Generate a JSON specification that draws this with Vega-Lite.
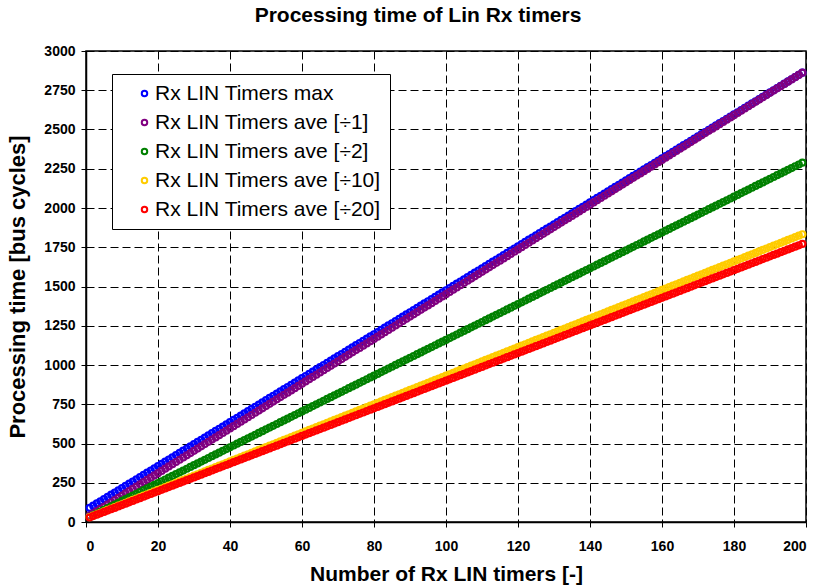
{
  "$schema": "https://vega.github.io/schema/vega-lite/v6.json",
  "width": 720,
  "height": 471,
  "autosize": {"type": "none"},
  "padding": {"left": 86, "top": 51, "right": 13, "bottom": 63},
  "background": "white",
  "title": {
    "text": "Processing time of Lin Rx timers",
    "font": "Liberation Sans",
    "fontSize": 21,
    "fontWeight": "bold",
    "color": "black",
    "anchor": "middle",
    "dx": -28,
    "offset": 18
  },
  "config": {
    "view": {"stroke": "black", "strokeWidth": 1.5},
    "axis": {
      "labelFont": "Liberation Sans",
      "labelFontSize": 14,
      "labelFontWeight": "bold",
      "labelColor": "black",
      "labelOverlap": false,
      "labelLimit": 200,
      "titleFont": "Liberation Sans",
      "titleFontSize": 21,
      "titleFontWeight": "bold",
      "titleColor": "black",
      "domainColor": "black",
      "domainWidth": 1.5,
      "tickColor": "black",
      "tickSize": 5,
      "tickWidth": 1,
      "grid": true,
      "gridColor": "black",
      "gridDash": [8, 4],
      "gridWidth": 1,
      "gridOpacity": 1
    }
  },
  "data": {
    "values": [
      {"n":1,"a":90,"b":40.25,"c":31.4,"d":31.1,"e":28.8},
      {"n":2,"a":104,"b":54.5,"c":42.8,"d":40.2,"e":37.6},
      {"n":3,"a":118,"b":68.75,"c":54.2,"d":49.3,"e":46.4},
      {"n":4,"a":132,"b":83,"c":65.6,"d":58.4,"e":55.2},
      {"n":5,"a":146,"b":97.25,"c":77,"d":67.5,"e":64},
      {"n":6,"a":160,"b":111.5,"c":88.4,"d":76.6,"e":72.8},
      {"n":7,"a":174,"b":125.75,"c":99.8,"d":85.7,"e":81.6},
      {"n":8,"a":188,"b":140,"c":111.2,"d":94.8,"e":90.4},
      {"n":9,"a":202,"b":154.25,"c":122.6,"d":103.9,"e":99.2},
      {"n":10,"a":216,"b":168.5,"c":134,"d":113,"e":108},
      {"n":11,"a":230,"b":182.75,"c":145.4,"d":122.1,"e":116.8},
      {"n":12,"a":244,"b":197,"c":156.8,"d":131.2,"e":125.6},
      {"n":13,"a":258,"b":211.25,"c":168.2,"d":140.3,"e":134.4},
      {"n":14,"a":272,"b":225.5,"c":179.6,"d":149.4,"e":143.2},
      {"n":15,"a":286,"b":239.75,"c":191,"d":158.5,"e":152},
      {"n":16,"a":300,"b":254,"c":202.4,"d":167.6,"e":160.8},
      {"n":17,"a":314,"b":268.25,"c":213.8,"d":176.7,"e":169.6},
      {"n":18,"a":328,"b":282.5,"c":225.2,"d":185.8,"e":178.4},
      {"n":19,"a":342,"b":296.75,"c":236.6,"d":194.9,"e":187.2},
      {"n":20,"a":356,"b":311,"c":248,"d":204,"e":196},
      {"n":21,"a":370,"b":325.25,"c":259.4,"d":213.1,"e":204.8},
      {"n":22,"a":384,"b":339.5,"c":270.8,"d":222.2,"e":213.6},
      {"n":23,"a":398,"b":353.75,"c":282.2,"d":231.3,"e":222.4},
      {"n":24,"a":412,"b":368,"c":293.6,"d":240.4,"e":231.2},
      {"n":25,"a":426,"b":382.25,"c":305,"d":249.5,"e":240},
      {"n":26,"a":440,"b":396.5,"c":316.4,"d":258.6,"e":248.8},
      {"n":27,"a":454,"b":410.75,"c":327.8,"d":267.7,"e":257.6},
      {"n":28,"a":468,"b":425,"c":339.2,"d":276.8,"e":266.4},
      {"n":29,"a":482,"b":439.25,"c":350.6,"d":285.9,"e":275.2},
      {"n":30,"a":496,"b":453.5,"c":362,"d":295,"e":284},
      {"n":31,"a":510,"b":467.75,"c":373.4,"d":304.1,"e":292.8},
      {"n":32,"a":524,"b":482,"c":384.8,"d":313.2,"e":301.6},
      {"n":33,"a":538,"b":496.25,"c":396.2,"d":322.3,"e":310.4},
      {"n":34,"a":552,"b":510.5,"c":407.6,"d":331.4,"e":319.2},
      {"n":35,"a":566,"b":524.75,"c":419,"d":340.5,"e":328},
      {"n":36,"a":580,"b":539,"c":430.4,"d":349.6,"e":336.8},
      {"n":37,"a":594,"b":553.25,"c":441.8,"d":358.7,"e":345.6},
      {"n":38,"a":608,"b":567.5,"c":453.2,"d":367.8,"e":354.4},
      {"n":39,"a":622,"b":581.75,"c":464.6,"d":376.9,"e":363.2},
      {"n":40,"a":636,"b":596,"c":476,"d":386,"e":372},
      {"n":41,"a":650,"b":610.25,"c":487.4,"d":395.1,"e":380.8},
      {"n":42,"a":664,"b":624.5,"c":498.8,"d":404.2,"e":389.6},
      {"n":43,"a":678,"b":638.75,"c":510.2,"d":413.3,"e":398.4},
      {"n":44,"a":692,"b":653,"c":521.6,"d":422.4,"e":407.2},
      {"n":45,"a":706,"b":667.25,"c":533,"d":431.5,"e":416},
      {"n":46,"a":720,"b":681.5,"c":544.4,"d":440.6,"e":424.8},
      {"n":47,"a":734,"b":695.75,"c":555.8,"d":449.7,"e":433.6},
      {"n":48,"a":748,"b":710,"c":567.2,"d":458.8,"e":442.4},
      {"n":49,"a":762,"b":724.25,"c":578.6,"d":467.9,"e":451.2},
      {"n":50,"a":776,"b":738.5,"c":590,"d":477,"e":460},
      {"n":51,"a":790,"b":752.75,"c":601.4,"d":486.1,"e":468.8},
      {"n":52,"a":804,"b":767,"c":612.8,"d":495.2,"e":477.6},
      {"n":53,"a":818,"b":781.25,"c":624.2,"d":504.3,"e":486.4},
      {"n":54,"a":832,"b":795.5,"c":635.6,"d":513.4,"e":495.2},
      {"n":55,"a":846,"b":809.75,"c":647,"d":522.5,"e":504},
      {"n":56,"a":860,"b":824,"c":658.4,"d":531.6,"e":512.8},
      {"n":57,"a":874,"b":838.25,"c":669.8,"d":540.7,"e":521.6},
      {"n":58,"a":888,"b":852.5,"c":681.2,"d":549.8,"e":530.4},
      {"n":59,"a":902,"b":866.75,"c":692.6,"d":558.9,"e":539.2},
      {"n":60,"a":916,"b":881,"c":704,"d":568,"e":548},
      {"n":61,"a":930,"b":895.25,"c":715.4,"d":577.1,"e":556.8},
      {"n":62,"a":944,"b":909.5,"c":726.8,"d":586.2,"e":565.6},
      {"n":63,"a":958,"b":923.75,"c":738.2,"d":595.3,"e":574.4},
      {"n":64,"a":972,"b":938,"c":749.6,"d":604.4,"e":583.2},
      {"n":65,"a":986,"b":952.25,"c":761,"d":613.5,"e":592},
      {"n":66,"a":1000,"b":966.5,"c":772.4,"d":622.6,"e":600.8},
      {"n":67,"a":1014,"b":980.75,"c":783.8,"d":631.7,"e":609.6},
      {"n":68,"a":1028,"b":995,"c":795.2,"d":640.8,"e":618.4},
      {"n":69,"a":1042,"b":1009.25,"c":806.6,"d":649.9,"e":627.2},
      {"n":70,"a":1056,"b":1023.5,"c":818,"d":659,"e":636},
      {"n":71,"a":1070,"b":1037.75,"c":829.4,"d":668.1,"e":644.8},
      {"n":72,"a":1084,"b":1052,"c":840.8,"d":677.2,"e":653.6},
      {"n":73,"a":1098,"b":1066.25,"c":852.2,"d":686.3,"e":662.4},
      {"n":74,"a":1112,"b":1080.5,"c":863.6,"d":695.4,"e":671.2},
      {"n":75,"a":1126,"b":1094.75,"c":875,"d":704.5,"e":680},
      {"n":76,"a":1140,"b":1109,"c":886.4,"d":713.6,"e":688.8},
      {"n":77,"a":1154,"b":1123.25,"c":897.8,"d":722.7,"e":697.6},
      {"n":78,"a":1168,"b":1137.5,"c":909.2,"d":731.8,"e":706.4},
      {"n":79,"a":1182,"b":1151.75,"c":920.6,"d":740.9,"e":715.2},
      {"n":80,"a":1196,"b":1166,"c":932,"d":750,"e":724},
      {"n":81,"a":1210,"b":1180.25,"c":943.4,"d":759.1,"e":732.8},
      {"n":82,"a":1224,"b":1194.5,"c":954.8,"d":768.2,"e":741.6},
      {"n":83,"a":1238,"b":1208.75,"c":966.2,"d":777.3,"e":750.4},
      {"n":84,"a":1252,"b":1223,"c":977.6,"d":786.4,"e":759.2},
      {"n":85,"a":1266,"b":1237.25,"c":989,"d":795.5,"e":768},
      {"n":86,"a":1280,"b":1251.5,"c":1000.4,"d":804.6,"e":776.8},
      {"n":87,"a":1294,"b":1265.75,"c":1011.8,"d":813.7,"e":785.6},
      {"n":88,"a":1308,"b":1280,"c":1023.2,"d":822.8,"e":794.4},
      {"n":89,"a":1322,"b":1294.25,"c":1034.6,"d":831.9,"e":803.2},
      {"n":90,"a":1336,"b":1308.5,"c":1046,"d":841,"e":812},
      {"n":91,"a":1350,"b":1322.75,"c":1057.4,"d":850.1,"e":820.8},
      {"n":92,"a":1364,"b":1337,"c":1068.8,"d":859.2,"e":829.6},
      {"n":93,"a":1378,"b":1351.25,"c":1080.2,"d":868.3,"e":838.4},
      {"n":94,"a":1392,"b":1365.5,"c":1091.6,"d":877.4,"e":847.2},
      {"n":95,"a":1406,"b":1379.75,"c":1103,"d":886.5,"e":856},
      {"n":96,"a":1420,"b":1394,"c":1114.4,"d":895.6,"e":864.8},
      {"n":97,"a":1434,"b":1408.25,"c":1125.8,"d":904.7,"e":873.6},
      {"n":98,"a":1448,"b":1422.5,"c":1137.2,"d":913.8,"e":882.4},
      {"n":99,"a":1462,"b":1436.75,"c":1148.6,"d":922.9,"e":891.2},
      {"n":100,"a":1476,"b":1451,"c":1160,"d":932,"e":900},
      {"n":101,"a":1490,"b":1465.25,"c":1171.4,"d":941.1,"e":908.8},
      {"n":102,"a":1504,"b":1479.5,"c":1182.8,"d":950.2,"e":917.6},
      {"n":103,"a":1518,"b":1493.75,"c":1194.2,"d":959.3,"e":926.4},
      {"n":104,"a":1532,"b":1508,"c":1205.6,"d":968.4,"e":935.2},
      {"n":105,"a":1546,"b":1522.25,"c":1217,"d":977.5,"e":944},
      {"n":106,"a":1560,"b":1536.5,"c":1228.4,"d":986.6,"e":952.8},
      {"n":107,"a":1574,"b":1550.75,"c":1239.8,"d":995.7,"e":961.6},
      {"n":108,"a":1588,"b":1565,"c":1251.2,"d":1004.8,"e":970.4},
      {"n":109,"a":1602,"b":1579.25,"c":1262.6,"d":1013.9,"e":979.2},
      {"n":110,"a":1616,"b":1593.5,"c":1274,"d":1023,"e":988},
      {"n":111,"a":1630,"b":1607.75,"c":1285.4,"d":1032.1,"e":996.8},
      {"n":112,"a":1644,"b":1622,"c":1296.8,"d":1041.2,"e":1005.6},
      {"n":113,"a":1658,"b":1636.25,"c":1308.2,"d":1050.3,"e":1014.4},
      {"n":114,"a":1672,"b":1650.5,"c":1319.6,"d":1059.4,"e":1023.2},
      {"n":115,"a":1686,"b":1664.75,"c":1331,"d":1068.5,"e":1032},
      {"n":116,"a":1700,"b":1679,"c":1342.4,"d":1077.6,"e":1040.8},
      {"n":117,"a":1714,"b":1693.25,"c":1353.8,"d":1086.7,"e":1049.6},
      {"n":118,"a":1728,"b":1707.5,"c":1365.2,"d":1095.8,"e":1058.4},
      {"n":119,"a":1742,"b":1721.75,"c":1376.6,"d":1104.9,"e":1067.2},
      {"n":120,"a":1756,"b":1736,"c":1388,"d":1114,"e":1076},
      {"n":121,"a":1770,"b":1750.25,"c":1399.4,"d":1123.1,"e":1084.8},
      {"n":122,"a":1784,"b":1764.5,"c":1410.8,"d":1132.2,"e":1093.6},
      {"n":123,"a":1798,"b":1778.75,"c":1422.2,"d":1141.3,"e":1102.4},
      {"n":124,"a":1812,"b":1793,"c":1433.6,"d":1150.4,"e":1111.2},
      {"n":125,"a":1826,"b":1807.25,"c":1445,"d":1159.5,"e":1120},
      {"n":126,"a":1840,"b":1821.5,"c":1456.4,"d":1168.6,"e":1128.8},
      {"n":127,"a":1854,"b":1835.75,"c":1467.8,"d":1177.7,"e":1137.6},
      {"n":128,"a":1868,"b":1850,"c":1479.2,"d":1186.8,"e":1146.4},
      {"n":129,"a":1882,"b":1864.25,"c":1490.6,"d":1195.9,"e":1155.2},
      {"n":130,"a":1896,"b":1878.5,"c":1502,"d":1205,"e":1164},
      {"n":131,"a":1910,"b":1892.75,"c":1513.4,"d":1214.1,"e":1172.8},
      {"n":132,"a":1924,"b":1907,"c":1524.8,"d":1223.2,"e":1181.6},
      {"n":133,"a":1938,"b":1921.25,"c":1536.2,"d":1232.3,"e":1190.4},
      {"n":134,"a":1952,"b":1935.5,"c":1547.6,"d":1241.4,"e":1199.2},
      {"n":135,"a":1966,"b":1949.75,"c":1559,"d":1250.5,"e":1208},
      {"n":136,"a":1980,"b":1964,"c":1570.4,"d":1259.6,"e":1216.8},
      {"n":137,"a":1994,"b":1978.25,"c":1581.8,"d":1268.7,"e":1225.6},
      {"n":138,"a":2008,"b":1992.5,"c":1593.2,"d":1277.8,"e":1234.4},
      {"n":139,"a":2022,"b":2006.75,"c":1604.6,"d":1286.9,"e":1243.2},
      {"n":140,"a":2036,"b":2021,"c":1616,"d":1296,"e":1252},
      {"n":141,"a":2050,"b":2035.25,"c":1627.4,"d":1305.1,"e":1260.8},
      {"n":142,"a":2064,"b":2049.5,"c":1638.8,"d":1314.2,"e":1269.6},
      {"n":143,"a":2078,"b":2063.75,"c":1650.2,"d":1323.3,"e":1278.4},
      {"n":144,"a":2092,"b":2078,"c":1661.6,"d":1332.4,"e":1287.2},
      {"n":145,"a":2106,"b":2092.25,"c":1673,"d":1341.5,"e":1296},
      {"n":146,"a":2120,"b":2106.5,"c":1684.4,"d":1350.6,"e":1304.8},
      {"n":147,"a":2134,"b":2120.75,"c":1695.8,"d":1359.7,"e":1313.6},
      {"n":148,"a":2148,"b":2135,"c":1707.2,"d":1368.8,"e":1322.4},
      {"n":149,"a":2162,"b":2149.25,"c":1718.6,"d":1377.9,"e":1331.2},
      {"n":150,"a":2176,"b":2163.5,"c":1730,"d":1387,"e":1340},
      {"n":151,"a":2190,"b":2177.75,"c":1741.4,"d":1396.1,"e":1348.8},
      {"n":152,"a":2204,"b":2192,"c":1752.8,"d":1405.2,"e":1357.6},
      {"n":153,"a":2218,"b":2206.25,"c":1764.2,"d":1414.3,"e":1366.4},
      {"n":154,"a":2232,"b":2220.5,"c":1775.6,"d":1423.4,"e":1375.2},
      {"n":155,"a":2246,"b":2234.75,"c":1787,"d":1432.5,"e":1384},
      {"n":156,"a":2260,"b":2249,"c":1798.4,"d":1441.6,"e":1392.8},
      {"n":157,"a":2274,"b":2263.25,"c":1809.8,"d":1450.7,"e":1401.6},
      {"n":158,"a":2288,"b":2277.5,"c":1821.2,"d":1459.8,"e":1410.4},
      {"n":159,"a":2302,"b":2291.75,"c":1832.6,"d":1468.9,"e":1419.2},
      {"n":160,"a":2316,"b":2306,"c":1844,"d":1478,"e":1428},
      {"n":161,"a":2330,"b":2320.25,"c":1855.4,"d":1487.1,"e":1436.8},
      {"n":162,"a":2344,"b":2334.5,"c":1866.8,"d":1496.2,"e":1445.6},
      {"n":163,"a":2358,"b":2348.75,"c":1878.2,"d":1505.3,"e":1454.4},
      {"n":164,"a":2372,"b":2363,"c":1889.6,"d":1514.4,"e":1463.2},
      {"n":165,"a":2386,"b":2377.25,"c":1901,"d":1523.5,"e":1472},
      {"n":166,"a":2400,"b":2391.5,"c":1912.4,"d":1532.6,"e":1480.8},
      {"n":167,"a":2414,"b":2405.75,"c":1923.8,"d":1541.7,"e":1489.6},
      {"n":168,"a":2428,"b":2420,"c":1935.2,"d":1550.8,"e":1498.4},
      {"n":169,"a":2442,"b":2434.25,"c":1946.6,"d":1559.9,"e":1507.2},
      {"n":170,"a":2456,"b":2448.5,"c":1958,"d":1569,"e":1516},
      {"n":171,"a":2470,"b":2462.75,"c":1969.4,"d":1578.1,"e":1524.8},
      {"n":172,"a":2484,"b":2477,"c":1980.8,"d":1587.2,"e":1533.6},
      {"n":173,"a":2498,"b":2491.25,"c":1992.2,"d":1596.3,"e":1542.4},
      {"n":174,"a":2512,"b":2505.5,"c":2003.6,"d":1605.4,"e":1551.2},
      {"n":175,"a":2526,"b":2519.75,"c":2015,"d":1614.5,"e":1560},
      {"n":176,"a":2540,"b":2534,"c":2026.4,"d":1623.6,"e":1568.8},
      {"n":177,"a":2554,"b":2548.25,"c":2037.8,"d":1632.7,"e":1577.6},
      {"n":178,"a":2568,"b":2562.5,"c":2049.2,"d":1641.8,"e":1586.4},
      {"n":179,"a":2582,"b":2576.75,"c":2060.6,"d":1650.9,"e":1595.2},
      {"n":180,"a":2596,"b":2591,"c":2072,"d":1660,"e":1604},
      {"n":181,"a":2610,"b":2605.25,"c":2083.4,"d":1669.1,"e":1612.8},
      {"n":182,"a":2624,"b":2619.5,"c":2094.8,"d":1678.2,"e":1621.6},
      {"n":183,"a":2638,"b":2633.75,"c":2106.2,"d":1687.3,"e":1630.4},
      {"n":184,"a":2652,"b":2648,"c":2117.6,"d":1696.4,"e":1639.2},
      {"n":185,"a":2666,"b":2662.25,"c":2129,"d":1705.5,"e":1648},
      {"n":186,"a":2680,"b":2676.5,"c":2140.4,"d":1714.6,"e":1656.8},
      {"n":187,"a":2694,"b":2690.75,"c":2151.8,"d":1723.7,"e":1665.6},
      {"n":188,"a":2708,"b":2705,"c":2163.2,"d":1732.8,"e":1674.4},
      {"n":189,"a":2722,"b":2719.25,"c":2174.6,"d":1741.9,"e":1683.2},
      {"n":190,"a":2736,"b":2733.5,"c":2186,"d":1751,"e":1692},
      {"n":191,"a":2750,"b":2747.75,"c":2197.4,"d":1760.1,"e":1700.8},
      {"n":192,"a":2764,"b":2762,"c":2208.8,"d":1769.2,"e":1709.6},
      {"n":193,"a":2778,"b":2776.25,"c":2220.2,"d":1778.3,"e":1718.4},
      {"n":194,"a":2792,"b":2790.5,"c":2231.6,"d":1787.4,"e":1727.2},
      {"n":195,"a":2806,"b":2804.75,"c":2243,"d":1796.5,"e":1736},
      {"n":196,"a":2820,"b":2819,"c":2254.4,"d":1805.6,"e":1744.8},
      {"n":197,"a":2834,"b":2833.25,"c":2265.8,"d":1814.7,"e":1753.6},
      {"n":198,"a":2848,"b":2847.5,"c":2277.2,"d":1823.8,"e":1762.4},
      {"n":199,"a":2862,"b":2861.75,"c":2288.6,"d":1832.9,"e":1771.2}
    ]
  },
  "encoding": {
    "x": {
      "field": "n",
      "type": "quantitative",
      "scale": {"domain": [0, 200], "nice": false},
      "axis": {
        "values": [0, 20, 40, 60, 80, 100, 120, 140, 160, 180, 200],
        "format": "d",
        "title": "Number of Rx LIN timers [-]",
        "labelPadding": 12,
        "titlePadding": 10
      }
    }
  },
  "layer": [
    {
      "mark": {"type": "point", "filled": false, "size": 36, "strokeWidth": 2.2, "opacity": 1},
      "encoding": {
        "y": {
          "field": "a",
          "type": "quantitative",
          "scale": {"domain": [0, 3000], "nice": false},
          "axis": {
            "values": [0, 250, 500, 750, 1000, 1250, 1500, 1750, 2000, 2250, 2500, 2750, 3000],
            "format": "d",
            "title": "Processing time [bus cycles]",
            "titleFontSize": 22,
            "labelPadding": 6,
            "titlePadding": 14
          }
        },
        "color": {
          "datum": "Rx LIN Timers max",
          "scale": {
            "domain": ["Rx LIN Timers max", "Rx LIN Timers ave [÷1]", "Rx LIN Timers ave [÷2]", "Rx LIN Timers ave [÷10]", "Rx LIN Timers ave [÷20]"],
            "range": ["#0000FF", "#800080", "#008000", "#FFCC00", "#FF0000"]
          },
          "legend": {
            "title": null,
            "orient": "none",
            "legendX": 26,
            "legendY": 23,
            "strokeColor": "black",
            "fillColor": "white",
            "padding": 9,
            "labelFont": "Liberation Sans",
            "labelFontSize": 21,
            "labelLimit": 400,
            "labelColor": "black",
            "symbolType": "circle",
            "symbolSize": 30,
            "symbolStrokeWidth": 2,
            "symbolOffset": 13,
            "labelOffset": 0,
            "rowPadding": 7,
            "encode": {"legend": {"update": {"strokeWidth": {"value": 1.5}}}}
          }
        }
      }
    },
    {
      "mark": {"type": "point", "filled": false, "size": 36, "strokeWidth": 2.2, "opacity": 1},
      "encoding": {
        "y": {
          "field": "b",
          "type": "quantitative",
          "axis": {
            "values": [0, 250, 500, 750, 1000, 1250, 1500, 1750, 2000, 2250, 2500, 2750, 3000],
            "format": "d",
            "title": "Processing time [bus cycles]",
            "titleFontSize": 22,
            "labelPadding": 6,
            "titlePadding": 14
          }
        },
        "color": {"datum": "Rx LIN Timers ave [÷1]"}
      }
    },
    {
      "mark": {"type": "point", "filled": false, "size": 36, "strokeWidth": 2.2, "opacity": 1},
      "encoding": {
        "y": {
          "field": "c",
          "type": "quantitative",
          "axis": {
            "values": [0, 250, 500, 750, 1000, 1250, 1500, 1750, 2000, 2250, 2500, 2750, 3000],
            "format": "d",
            "title": "Processing time [bus cycles]",
            "titleFontSize": 22,
            "labelPadding": 6,
            "titlePadding": 14
          }
        },
        "color": {"datum": "Rx LIN Timers ave [÷2]"}
      }
    },
    {
      "mark": {"type": "point", "filled": false, "size": 36, "strokeWidth": 2.2, "opacity": 1},
      "encoding": {
        "y": {
          "field": "d",
          "type": "quantitative",
          "axis": {
            "values": [0, 250, 500, 750, 1000, 1250, 1500, 1750, 2000, 2250, 2500, 2750, 3000],
            "format": "d",
            "title": "Processing time [bus cycles]",
            "titleFontSize": 22,
            "labelPadding": 6,
            "titlePadding": 14
          }
        },
        "color": {"datum": "Rx LIN Timers ave [÷10]"}
      }
    },
    {
      "mark": {"type": "point", "filled": false, "size": 36, "strokeWidth": 2.2, "opacity": 1},
      "encoding": {
        "y": {
          "field": "e",
          "type": "quantitative",
          "axis": {
            "values": [0, 250, 500, 750, 1000, 1250, 1500, 1750, 2000, 2250, 2500, 2750, 3000],
            "format": "d",
            "title": "Processing time [bus cycles]",
            "titleFontSize": 22,
            "labelPadding": 6,
            "titlePadding": 14
          }
        },
        "color": {"datum": "Rx LIN Timers ave [÷20]"}
      }
    }
  ]
}
